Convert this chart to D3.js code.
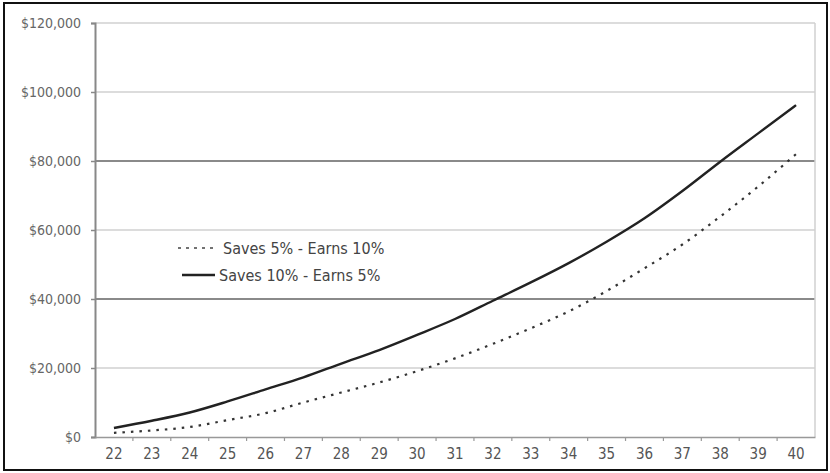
<!DOCTYPE html>
<html><head><meta charset="utf-8">
<script src="https://cdn.jsdelivr.net/npm/d3@7"></script>
<style>body{margin:0;background:#fff}svg{display:block}text{font-family:"Liberation Sans Narrow","DejaVu Sans Condensed",Lato,sans-serif}</style>
</head><body>
<svg id="c" width="830" height="473"></svg>
<script>
const ages = ["22","23","24","25","26","27","28","29","30","31","32","33","34","35","36","37","38","39","40"];
const saves5earns10 = [1200,1900,2900,4900,6900,10000,12900,15800,19100,22800,27000,31500,36400,42300,48900,55800,63900,72600,82000];
const saves10earns5 = [2600,4700,7100,10300,13800,17300,21300,25200,29600,34200,39500,44800,50400,56600,63400,71300,79800,88000,96200];
const yTicks = [0,20000,40000,60000,80000,100000,120000];
const darkGrid = [40000,80000];
const seriesNames = ["Saves 5% - Earns 10%","Saves 10% - Earns 5%"];

const svg = d3.select("#c");
svg.append("rect").attr("x",4).attr("y",3).attr("width",823).attr("height",467)
  .attr("fill","#fff").attr("stroke","#111").attr("stroke-width",2);

const L=95,R=815,T=23,B=437;
const x = d3.scaleBand().domain(ages).range([L,R]).padding(0);
const y = d3.scaleLinear().domain([0,120000]).range([B,T]);

svg.append("g").selectAll("line").data(yTicks.filter(d=>d>0)).join("line")
  .attr("x1",L).attr("x2",R).attr("y1",d=>y(d)).attr("y2",d=>y(d))
  .attr("stroke",d=>darkGrid.includes(d)?"#8a8a8a":"#dcdcdc")
  .attr("stroke-width",2);
svg.append("line").attr("x1",R).attr("x2",R).attr("y1",T).attr("y2",B)
  .attr("stroke","#d0d0d0").attr("stroke-width",1.5);

const ya = svg.append("g").attr("transform",`translate(${L},0)`)
  .call(d3.axisLeft(y).tickValues(yTicks).tickSize(4).tickPadding(10)
    .tickFormat(d=>"$"+d3.format(",")(d)));
ya.select(".domain").attr("stroke","#888").attr("stroke-width",2);
ya.selectAll(".tick line").attr("stroke","#888").attr("stroke-width",1.5);
ya.selectAll("text").attr("fill","#666").style("font-size","14px");

const xa = svg.append("g").attr("transform",`translate(0,${B})`)
  .call(d3.axisBottom(x).tickSize(0).tickPadding(11));
xa.select(".domain").attr("stroke","#999").attr("stroke-width",1.5);
xa.selectAll("text").attr("fill","#555").style("font-size","15px");
svg.append("g").selectAll("line").data(ages.slice(1)).join("line")
  .attr("x1",d=>x(d)).attr("x2",d=>x(d)).attr("y1",B).attr("y2",B+4)
  .attr("stroke","#999").attr("stroke-width",1.2);

const line = d3.line().x((d,i)=>x(ages[i])+x.bandwidth()/2).y(d=>y(d)).curve(d3.curveMonotoneX);
svg.append("path").datum(saves5earns10).attr("d",line).attr("fill","none")
  .attr("stroke","#333").attr("stroke-width",2.2).attr("stroke-dasharray","2.5,6");
svg.append("path").datum(saves10earns5).attr("d",line).attr("fill","none")
  .attr("stroke","#222").attr("stroke-width",2.4);

const lg = svg.append("g");
lg.append("line").attr("x1",178).attr("x2",213).attr("y1",248).attr("y2",248)
  .attr("stroke","#444").attr("stroke-width",1.6).attr("stroke-dasharray","3,5");
lg.append("text").attr("x",223).attr("y",253.5).text(seriesNames[0]).attr("fill","#444").style("font-size","16px");
lg.append("line").attr("x1",182).attr("x2",215).attr("y1",275).attr("y2",275)
  .attr("stroke","#222").attr("stroke-width",2.4);
lg.append("text").attr("x",219).attr("y",280.5).text(seriesNames[1]).attr("fill","#444").style("font-size","16px");
</script>
</body></html>
